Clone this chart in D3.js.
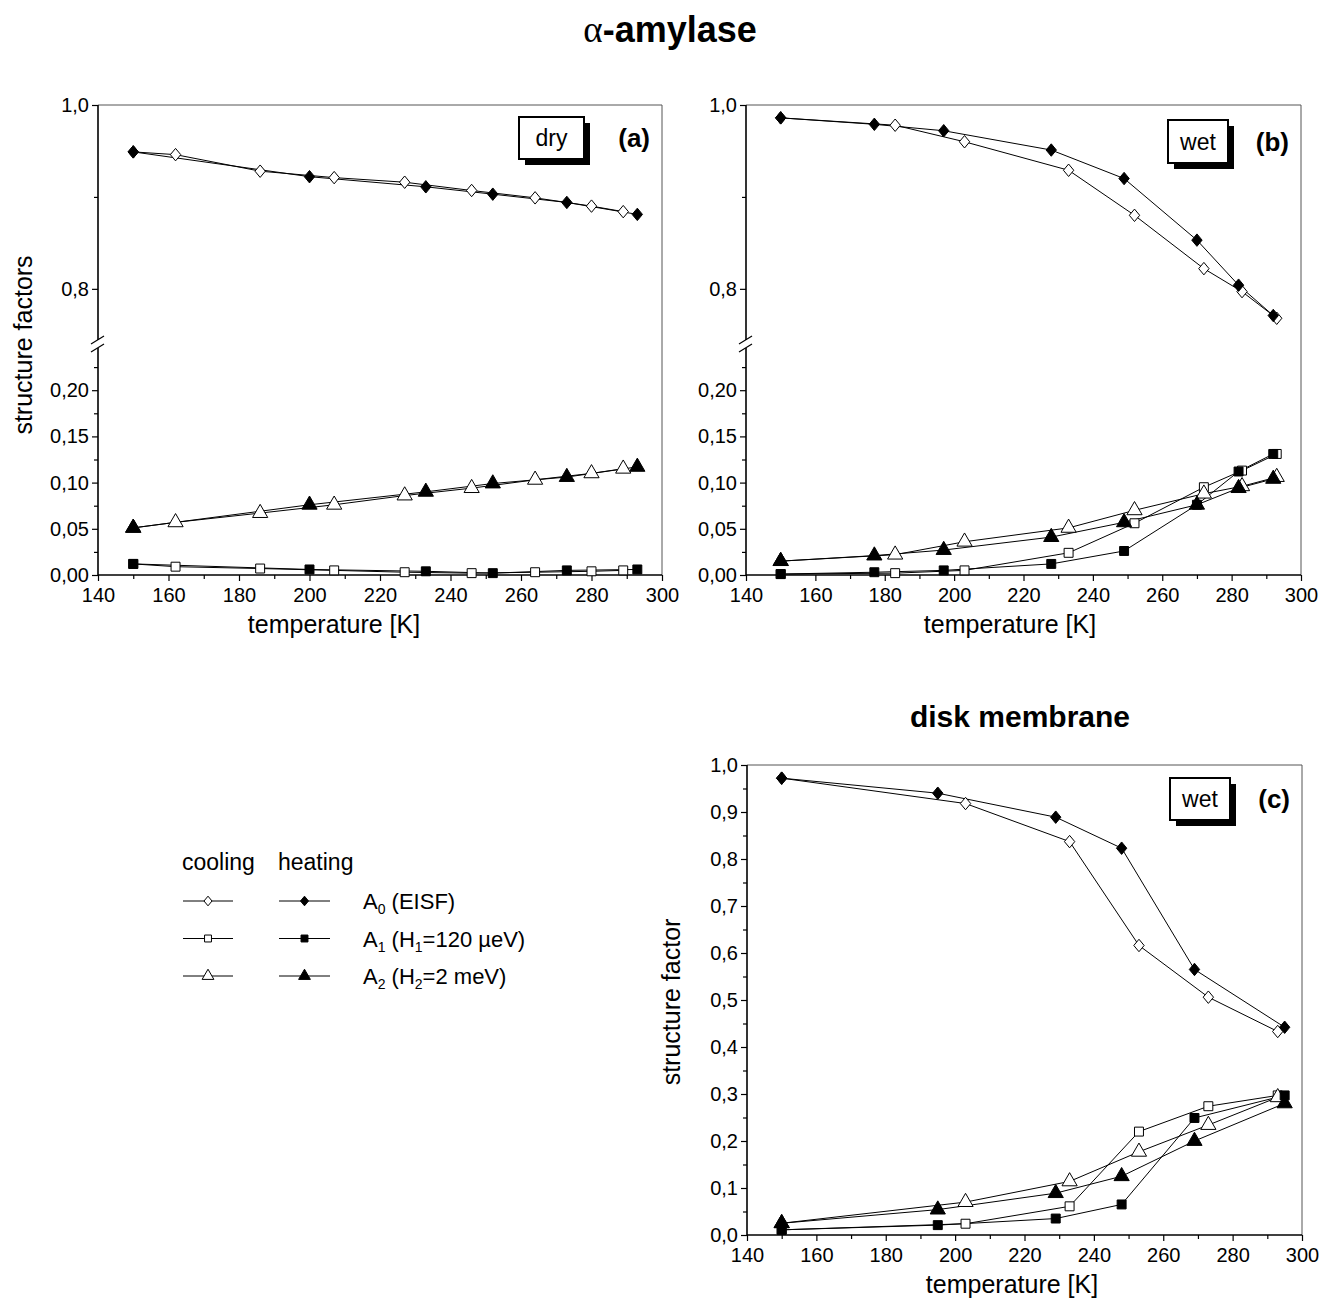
<!DOCTYPE html>
<html>
<head>
<meta charset="utf-8">
<title>structure factors</title>
<script src="https://cdn.jsdelivr.net/npm/d3@7"></script>
<style>
  body { margin: 0; background: #fff; }
  text { font-family: "Liberation Sans", Arial, sans-serif; fill: #000; }
</style>
</head>
<body>
<div id="graphDiv"></div>
<script>

// ---- data ----
// (a) alpha-amylase, dry
var dryHeatT  = [150, 200, 233, 252, 273, 293],
    dryHeatA0 = [0.949, 0.922, 0.911, 0.903, 0.894, 0.881],
    dryHeatA1 = [0.012, 0.006, 0.004, 0.002, 0.005, 0.006],
    dryHeatA2 = [0.051, 0.076, 0.090, 0.099, 0.106, 0.117],
    dryCoolT  = [150, 162, 186, 207, 227, 246, 264, 280, 289],
    dryCoolA0 = [0.949, 0.946, 0.928, 0.921, 0.916, 0.907, 0.899, 0.890, 0.884],
    dryCoolA1 = [0.012, 0.009, 0.007, 0.005, 0.003, 0.002, 0.003, 0.004, 0.005],
    dryCoolA2 = [0.051, 0.057, 0.067, 0.076, 0.086, 0.094, 0.103, 0.110, 0.115];

// (b) alpha-amylase, wet
var wetHeatT  = [150, 177, 197, 228, 249, 270, 282, 292],
    wetHeatA0 = [0.986, 0.979, 0.972, 0.951, 0.920, 0.853, 0.804, 0.771],
    wetHeatA1 = [0.001, 0.003, 0.005, 0.012, 0.026, 0.076, 0.112, 0.131],
    wetHeatA2 = [0.015, 0.021, 0.027, 0.041, 0.057, 0.076, 0.094, 0.104],
    wetCoolT  = [150, 183, 203, 233, 252, 272, 283, 293],
    wetCoolA0 = [0.986, 0.978, 0.960, 0.929, 0.880, 0.822, 0.797, 0.768],
    wetCoolA1 = [0.001, 0.002, 0.005, 0.024, 0.056, 0.095, 0.113, 0.131],
    wetCoolA2 = [0.015, 0.022, 0.036, 0.051, 0.070, 0.088, 0.096, 0.106];

// (c) disk membrane, wet
var memHeatT  = [150, 195, 229, 248, 269, 295],
    memHeatA0 = [0.972, 0.940, 0.889, 0.823, 0.565, 0.442],
    memHeatA1 = [0.011, 0.021, 0.035, 0.065, 0.249, 0.297],
    memHeatA2 = [0.025, 0.054, 0.089, 0.125, 0.200, 0.280],
    memCoolT  = [150, 203, 233, 253, 273, 293],
    memCoolA0 = [0.972, 0.918, 0.837, 0.616, 0.506, 0.433],
    memCoolA1 = [0.011, 0.024, 0.061, 0.220, 0.274, 0.297],
    memCoolA2 = [0.025, 0.070, 0.114, 0.177, 0.234, 0.293];

var xTicks = [140, 160, 180, 200, 220, 240, 260, 280, 300],
    xMinor = [150, 170, 190, 210, 230, 250, 270, 290],
    upTicks = [0.8, 1.0],
    upMinor = [0.9],
    loTicks = [0, 0.05, 0.10, 0.15, 0.20],
    loMinor = [0.025, 0.075, 0.125, 0.175, 0.225],
    memTicks = [0, 0.1, 0.2, 0.3, 0.4, 0.5, 0.6, 0.7, 0.8, 0.9, 1.0],
    memMinor = [0.05, 0.15, 0.25, 0.35, 0.45, 0.55, 0.65, 0.75, 0.85, 0.95];

var width = 1328, height = 1301;

var svg = d3.select('#graphDiv').append('svg')
    .attr('width', width)
    .attr('height', height);

svg.append('rect').attr('width', width).attr('height', height).attr('fill', '#fff');

// diamond drawn as a square turned by 45 degrees
var diamond = {
    draw: function(ctx, size) {
        var r = Math.sqrt(size) / 2 * 1.25;
        ctx.moveTo(0, -r * 1.08);
        ctx.lineTo(r * 0.9, 0);
        ctx.lineTo(0, r * 1.08);
        ctx.lineTo(-r * 0.9, 0);
        ctx.closePath();
    }
};
var shapes = [diamond, d3.symbolSquare, d3.symbolTriangle],
    sizes = [85, 80, 100];

function comma(n) {
    return function(d) { return d.toFixed(n).replace('.', ','); };
}

function series(t, v) {
    return t.map(function(d, i) { return [d, v[i]]; });
}

function drawPanel(p) {
    var g = svg.append('g');
    var x = d3.scaleLinear().domain([140, 300]).range([p.x0, p.x1]);
    var yPos, yUp, yLo;

    if (p.broken) {
        yUp = d3.scaleLinear().domain([0.74, 1.0]).range([p.yBreak, p.yTop]);
        yLo = d3.scaleLinear().domain([0, 0.25]).range([p.yBot, p.yBreak]);
        yPos = function(v) { return v > 0.5 ? yUp(v) : yLo(v); };
    } else {
        yLo = d3.scaleLinear().domain([0, 1.0]).range([p.yBot, p.yTop]);
        yPos = yLo;
    }

    // frame (top and right)
    g.append('path')
        .attr('d', 'M' + p.x0 + ',' + p.yTop + 'H' + p.x1 + 'V' + p.yBot)
        .attr('fill', 'none').attr('stroke', '#555').attr('stroke-width', 1);

    // x axis
    var xa = g.append('g').attr('transform', 'translate(0,' + p.yBot + ')');
    xa.call(d3.axisBottom(x).tickValues(xTicks).tickFormat(d3.format('d')).tickSize(6).tickPadding(7));
    xa.append('g').call(d3.axisBottom(x).tickValues(xMinor).tickFormat('').tickSize(4));
    xa.selectAll('.domain').remove();
    xa.selectAll('text').style('font-size', '20px').style('font-family', '"Liberation Sans", Arial, sans-serif');
    xa.selectAll('line').attr('stroke-width', 1.2);
    g.append('line')
        .attr('x1', p.x0).attr('x2', p.x1).attr('y1', p.yBot).attr('y2', p.yBot)
        .attr('stroke', '#000').attr('stroke-width', 1.6);

    // y axis
    var ya = g.append('g').attr('transform', 'translate(' + p.x0 + ',0)');
    if (p.broken) {
        ya.append('g').call(d3.axisLeft(yUp).tickValues(upTicks).tickFormat(comma(1)).tickSize(6).tickPadding(3));
        ya.append('g').call(d3.axisLeft(yUp).tickValues(upMinor).tickFormat('').tickSize(4));
        ya.append('g').call(d3.axisLeft(yLo).tickValues(loTicks).tickFormat(comma(2)).tickSize(6).tickPadding(3));
        ya.append('g').call(d3.axisLeft(yLo).tickValues(loMinor).tickFormat('').tickSize(4));
    } else {
        ya.append('g').call(d3.axisLeft(yLo).tickValues(memTicks).tickFormat(comma(1)).tickSize(6).tickPadding(3));
        ya.append('g').call(d3.axisLeft(yLo).tickValues(memMinor).tickFormat('').tickSize(4));
    }
    ya.selectAll('.domain').remove();
    ya.selectAll('text').style('font-size', '20px').style('font-family', '"Liberation Sans", Arial, sans-serif');
    ya.selectAll('line').attr('stroke-width', 1.2);

    if (p.broken) {
        g.append('line').attr('x1', p.x0).attr('x2', p.x0).attr('y1', p.yTop).attr('y2', p.yBreak - 4)
            .attr('stroke', '#000').attr('stroke-width', 1.6);
        g.append('line').attr('x1', p.x0).attr('x2', p.x0).attr('y1', p.yBreak + 4).attr('y2', p.yBot)
            .attr('stroke', '#000').attr('stroke-width', 1.6);
        [-4, 4].forEach(function(o) {
            g.append('line')
                .attr('x1', p.x0 - 7).attr('y1', p.yBreak + o + 4)
                .attr('x2', p.x0 + 6).attr('y2', p.yBreak + o - 4)
                .attr('stroke', '#000').attr('stroke-width', 1.3);
        });
    } else {
        g.append('line').attr('x1', p.x0).attr('x2', p.x0).attr('y1', p.yTop).attr('y2', p.yBot)
            .attr('stroke', '#000').attr('stroke-width', 1.6);
    }

    // lines
    var line = d3.line().x(function(d) { return x(d[0]); }).y(function(d) { return yPos(d[1]); });
    var all = p.cool.concat(p.heat);
    g.selectAll('.curve').data(all).enter().append('path')
        .attr('class', 'curve')
        .attr('d', line)
        .attr('fill', 'none')
        .attr('stroke', '#000')
        .attr('stroke-width', 1);

    // markers: cooling open, heating filled on top
    [[p.cool, '#fff'], [p.heat, '#000']].forEach(function(set) {
        set[0].forEach(function(s, k) {
            g.selectAll(null).data(s).enter().append('path')
                .attr('transform', function(d) { return 'translate(' + x(d[0]) + ',' + yPos(d[1]) + ')'; })
                .attr('d', d3.symbol().type(shapes[k]).size(sizes[k]))
                .attr('fill', set[1])
                .attr('stroke', '#000')
                .attr('stroke-width', 1);
        });
    });

    // x title
    g.append('text')
        .attr('x', p.titleX).attr('y', p.yBot + 58)
        .attr('text-anchor', 'middle')
        .style('font-size', '25px')
        .text('temperature [K]');

    // inset label box with shadow
    var b = p.box;
    g.append('rect').attr('x', b.x + 6).attr('y', b.y + 6).attr('width', b.w).attr('height', b.h).attr('fill', '#000');
    g.append('rect').attr('x', b.x).attr('y', b.y).attr('width', b.w).attr('height', b.h)
        .attr('fill', '#fff').attr('stroke', '#000').attr('stroke-width', 2);
    g.append('text').attr('x', b.x + b.w / 2).attr('y', b.y + b.h / 2 + 8)
        .attr('text-anchor', 'middle').style('font-size', '23px').text(b.label);
    g.append('text').attr('x', p.x1 - 12).attr('y', b.y + b.h / 2 + 9)
        .attr('text-anchor', 'end').style('font-size', '26px').style('font-weight', 'bold').text(p.tag);
}

drawPanel({
    x0: 98, x1: 662, yTop: 105, yBot: 575, yBreak: 344, broken: true, titleX: 334,
    box: {x: 519, y: 117, w: 65, h: 42, label: 'dry'}, tag: '(a)',
    cool: [series(dryCoolT, dryCoolA0), series(dryCoolT, dryCoolA1), series(dryCoolT, dryCoolA2)],
    heat: [series(dryHeatT, dryHeatA0), series(dryHeatT, dryHeatA1), series(dryHeatT, dryHeatA2)]
});

drawPanel({
    x0: 746, x1: 1301, yTop: 105, yBot: 575, yBreak: 344, broken: true, titleX: 1010,
    box: {x: 1168, y: 120, w: 60, h: 43, label: 'wet'}, tag: '(b)',
    cool: [series(wetCoolT, wetCoolA0), series(wetCoolT, wetCoolA1), series(wetCoolT, wetCoolA2)],
    heat: [series(wetHeatT, wetHeatA0), series(wetHeatT, wetHeatA1), series(wetHeatT, wetHeatA2)]
});

drawPanel({
    x0: 747, x1: 1302, yTop: 765, yBot: 1235, broken: false, titleX: 1012,
    box: {x: 1170, y: 778, w: 60, h: 42, label: 'wet'}, tag: '(c)',
    cool: [series(memCoolT, memCoolA0), series(memCoolT, memCoolA1), series(memCoolT, memCoolA2)],
    heat: [series(memHeatT, memHeatA0), series(memHeatT, memHeatA1), series(memHeatT, memHeatA2)]
});

// titles
var t1 = svg.append('text').attr('x', 670).attr('y', 42).attr('text-anchor', 'middle').style('font-size', '36px');
t1.append('tspan').style('font-family', '"Liberation Serif", "DejaVu Serif", serif').style('font-size', '37px').text('α');
t1.append('tspan').style('font-weight', 'bold').text('-amylase');

svg.append('text').attr('x', 1020).attr('y', 727).attr('text-anchor', 'middle')
    .style('font-size', '30px').style('font-weight', 'bold').text('disk membrane');

// y titles
svg.append('text').attr('transform', 'translate(32,345) rotate(-90)')
    .attr('text-anchor', 'middle').style('font-size', '25px').text('structure factors');
svg.append('text').attr('transform', 'translate(680,1002) rotate(-90)')
    .attr('text-anchor', 'middle').style('font-size', '25px').text('structure factor');

// legend
var legendRows = [
    {sub: '0', rest: ' (EISF)'},
    {sub: '1', rest: ' (H', sub2: '1', rest2: '=120 µeV)'},
    {sub: '2', rest: ' (H', sub2: '2', rest2: '=2 meV)'}
];
var lg = svg.append('g');
lg.append('text').attr('x', 182).attr('y', 870).style('font-size', '23px').text('cooling');
lg.append('text').attr('x', 278).attr('y', 870).style('font-size', '23px').text('heating');
legendRows.forEach(function(r, i) {
    var y = 901 + i * 37.5;
    [[183, 233, '#fff'], [279, 330, '#000']].forEach(function(c) {
        lg.append('line').attr('x1', c[0]).attr('x2', c[1]).attr('y1', y).attr('y2', y)
            .attr('stroke', '#000').attr('stroke-width', 1);
        lg.append('path').attr('transform', 'translate(' + (c[0] + c[1]) / 2 + ',' + y + ')')
            .attr('d', d3.symbol().type(shapes[i]).size(sizes[i] * 0.6))
            .attr('fill', c[2]).attr('stroke', '#000').attr('stroke-width', 1);
    });
    var tx = lg.append('text').attr('x', 363).attr('y', y + 8).style('font-size', '22px');
    tx.append('tspan').text('A');
    tx.append('tspan').attr('dy', 5).style('font-size', '14px').text(r.sub);
    tx.append('tspan').attr('dy', -5).text(r.rest);
    if (r.sub2) {
        tx.append('tspan').attr('dy', 5).style('font-size', '14px').text(r.sub2);
        tx.append('tspan').attr('dy', -5).text(r.rest2);
    }
});

</script>
</body>
</html>
